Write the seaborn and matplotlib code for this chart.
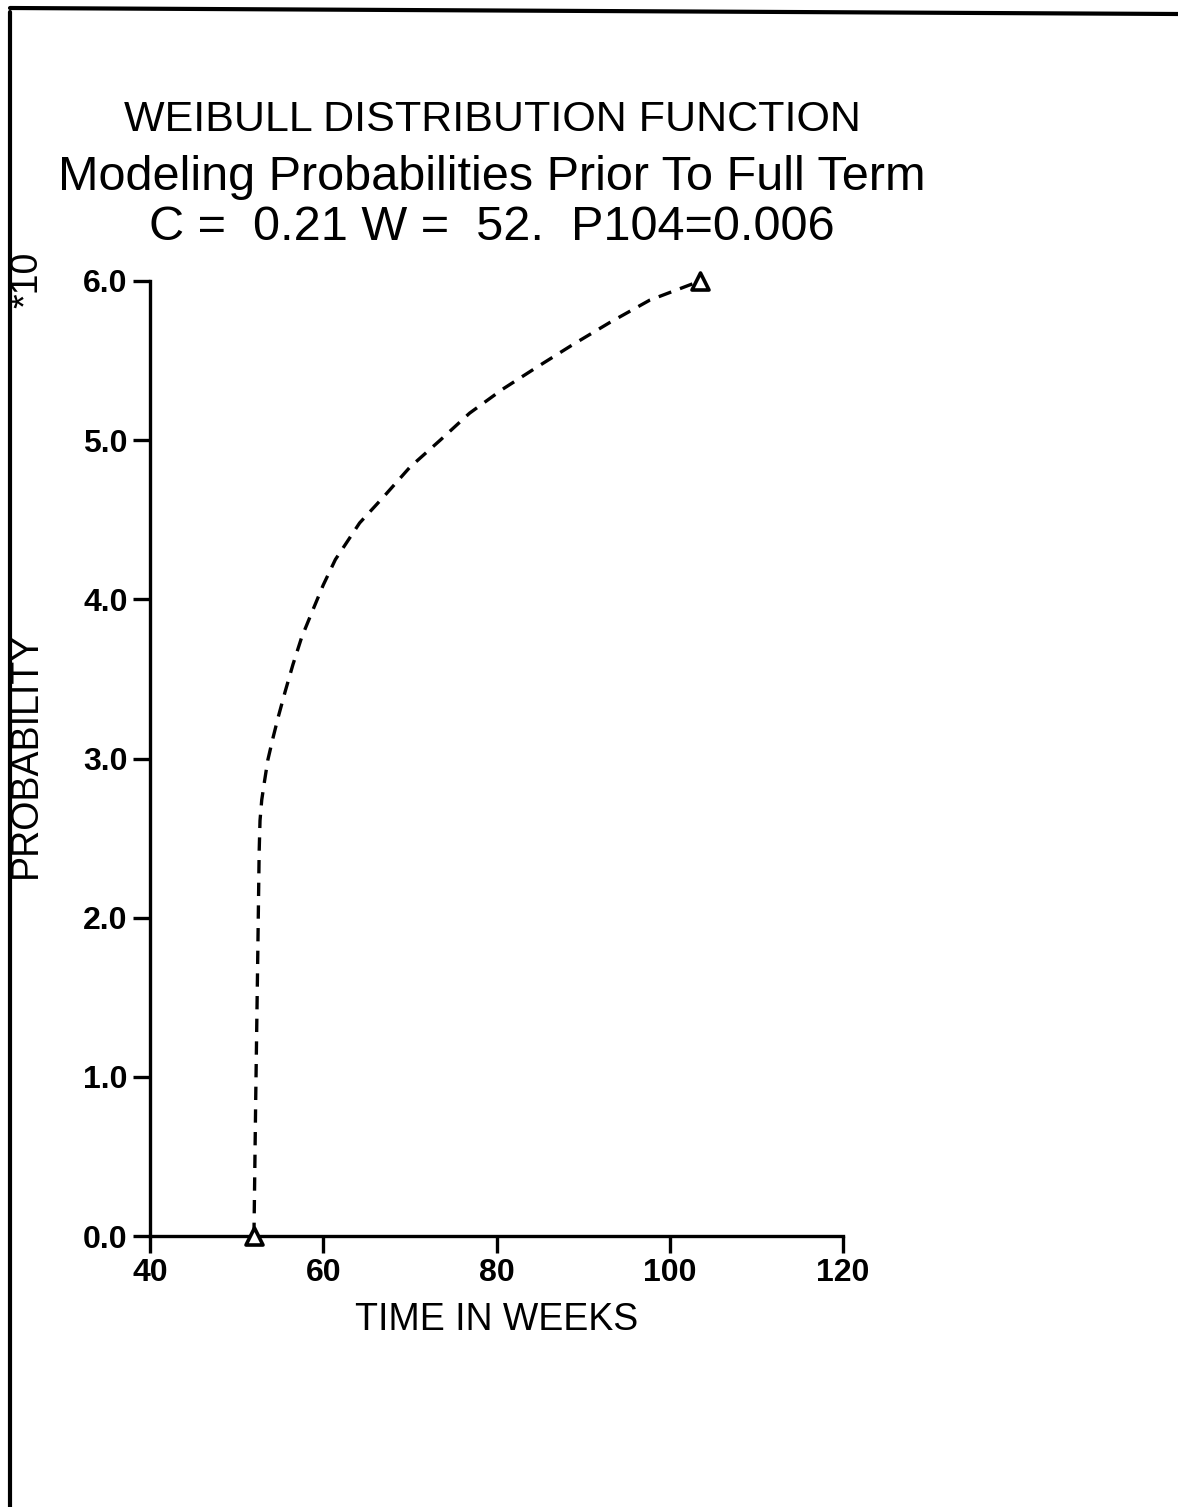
import matplotlib
matplotlib.use("Agg")
import matplotlib.pyplot as plt
import seaborn as sns
import pandas as pd
from matplotlib.lines import Line2D

# Data (probability in units of 10^-3)
weeks = [52.0, 52.2, 52.45, 52.6, 52.7, 52.9, 53.2, 53.6, 54.2, 54.8, 55.6, 56.5, 57.5,
         58.7, 60.0, 61.4, 64.2, 66.9, 70.0, 73.5, 76.9, 80.7, 84.7, 88.8, 93.1, 97.7, 103.5]
prob = [0.00, 0.85, 1.80, 2.41, 2.61, 2.74, 2.85, 2.99, 3.13, 3.26, 3.42, 3.59, 3.76,
        3.92, 4.09, 4.25, 4.48, 4.64, 4.83, 5.00, 5.17, 5.32, 5.46, 5.60, 5.74, 5.88, 6.00]
marker_weeks = [52.0, 103.5]
marker_prob = [0.0, 6.0]
x_ticks = [40, 60, 80, 100, 120]
y_ticks = [0.0, 1.0, 2.0, 3.0, 4.0, 5.0, 6.0]
y_tick_labels = ["0.0", "1.0", "2.0", "3.0", "4.0", "5.0", "6.0"]
title_lines = ["WEIBULL DISTRIBUTION FUNCTION",
               "Modeling Probabilities Prior To Full Term",
               "C =  0.21 W =  52.  P104=0.006"]

sns.set_theme(style="white")
plt.rcParams['font.family'] = ['Liberation Sans', 'DejaVu Sans']
plt.rcParams['text.color'] = 'black'
plt.rcParams['axes.labelcolor'] = 'black'
plt.rcParams['xtick.color'] = 'black'
plt.rcParams['ytick.color'] = 'black'

df = pd.DataFrame({"weeks": weeks, "prob": prob})
mk = pd.DataFrame({"weeks": marker_weeks, "prob": marker_prob})

fig = plt.figure(figsize=(11.78, 15.07), dpi=100)
ax = fig.add_axes([150/1178, 1 - 1236/1507, (843-150)/1178, (1236-281)/1507])

sns.lineplot(data=df, x="weeks", y="prob", ax=ax, color="black", linewidth=2.4,
             linestyle=(0, (4, 2.8)), sort=False)
sns.scatterplot(data=mk, x="weeks", y="prob", ax=ax, marker="^", s=150,
                facecolor="white", edgecolor="black", linewidth=2.6, zorder=5)
for coll in ax.collections:
    coll.set_clip_on(False)

ax.set_xlim(40, 120)
ax.set_ylim(0, 6.0)
ax.set_xticks(x_ticks)
ax.set_yticks(y_ticks)
ax.set_yticklabels(y_tick_labels)
for s in ["top", "right"]:
    ax.spines[s].set_visible(False)
for s in ["left", "bottom"]:
    ax.spines[s].set_color("black")
    ax.spines[s].set_linewidth(2.4)
ax.tick_params(axis="both", direction="out", length=12, width=2.4, color="black",
               labelsize=23, pad=4, bottom=True, left=True, labelcolor="black")
for lab in ax.get_xticklabels() + ax.get_yticklabels():
    lab.set_fontweight("bold")
ax.set_xlabel("TIME IN WEEKS", fontsize=27, labelpad=10, color="black")
ax.set_ylabel("")
ax.grid(False)

fig.text(26/1178, 1 - 755/1507, "PROBABILITY", rotation=90, fontsize=27,
         ha="center", va="center", color="black")
fig.text(27/1178, 1 - 280/1507, "*10", rotation=90, fontsize=27,
         ha="center", va="center", color="black")

ys = [120, 178, 228]
sizes = [31, 35, 35]
for t, y, fs in zip(title_lines, ys, sizes):
    fig.text(492/1178, 1 - y/1507, t, fontsize=fs, ha="center", va="center", color="black")

# page border lines
fig.add_artist(Line2D([10/1178, 10/1178], [0, 1 - 12/1507], color="black", lw=3,
                      transform=fig.transFigure))
fig.add_artist(Line2D([10/1178, 1], [1 - 8/1507, 1 - 14/1507], color="black", lw=3,
                      transform=fig.transFigure))

fig.savefig("out.png", dpi=100, facecolor="white")
